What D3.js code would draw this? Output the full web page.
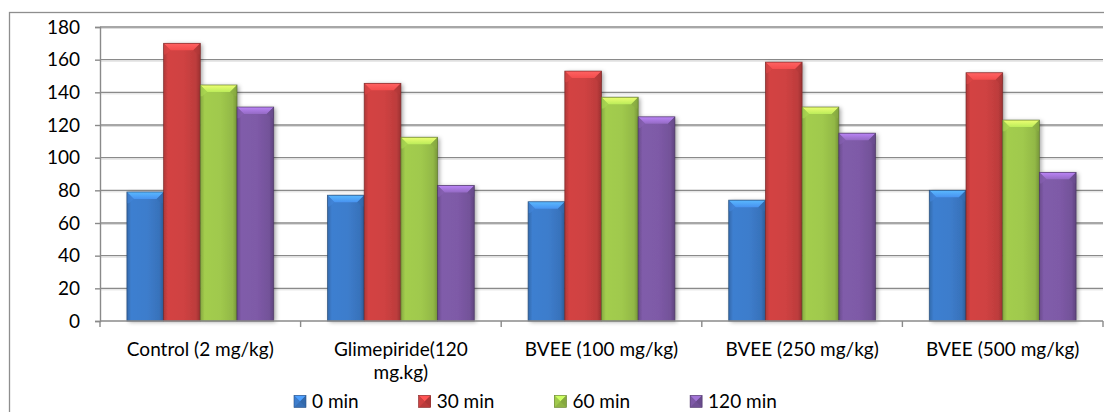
<!DOCTYPE html>
<html>
<head>
<meta charset="utf-8">
<script src="https://cdn.jsdelivr.net/npm/d3@7"></script>
<style>
html,body{margin:0;padding:0;background:#fff;}
svg{display:block;}
</style>
</head>
<body>
<svg id="chart" width="1104" height="412"></svg>
<script>
// ---- data ----
const categories = ["Control (2 mg/kg)", "Glimepiride(120 mg.kg)", "BVEE (100 mg/kg)", "BVEE (250 mg/kg)", "BVEE (500 mg/kg)"];
const seriesNames = ["0 min", "30 min", "60 min", "120 min"];
const min0   = [79, 77, 73, 74, 80];
const min30  = [170, 145.5, 153, 158.5, 152];
const min60  = [144.5, 112.5, 137, 131, 123];
const min120 = [131, 83, 125, 115, 91];
const yTicks = [0, 20, 40, 60, 80, 100, 120, 140, 160, 180];
const seriesColors = ["#3d7dcc", "#cf4242", "#a0c94d", "#7e5aa7"];

const seriesValues = [min0, min30, min60, min120];

const svg = d3.select("#chart");
const defs = svg.append("defs");

// shadow filter
const f = defs.append("filter").attr("id", "shadow").attr("x", "-20%").attr("y", "-20%").attr("width", "150%").attr("height", "150%");
f.append("feDropShadow").attr("dx", 2).attr("dy", 1).attr("stdDeviation", 2).attr("flood-color", "#000").attr("flood-opacity", 0.35);

// gradients per series
seriesColors.forEach((c, i) => {
  const base = d3.color(c);
  const g = defs.append("linearGradient").attr("id", "body" + i).attr("x1", 0).attr("x2", 1).attr("y1", 0).attr("y2", 0);
  g.append("stop").attr("offset", "0%").attr("stop-color", base.darker(0.5));
  g.append("stop").attr("offset", "12%").attr("stop-color", base.brighter(0.05));
  g.append("stop").attr("offset", "55%").attr("stop-color", base);
  g.append("stop").attr("offset", "88%").attr("stop-color", base.darker(0.25));
  g.append("stop").attr("offset", "100%").attr("stop-color", base.darker(0.8));
  const t = defs.append("linearGradient").attr("id", "top" + i).attr("x1", 0).attr("x2", 0).attr("y1", 0).attr("y2", 1);
  t.append("stop").attr("offset", "0%").attr("stop-color", base.brighter(1.1));
  t.append("stop").attr("offset", "100%").attr("stop-color", base.brighter(0.45));
});

const FONT = "Lato, 'Open Sans', sans-serif";

// fit font size so a category label width matches the reference
const probe = svg.append("text").attr("font-family", FONT).attr("font-size", 100).text("Control (2 mg/kg)");
const probeW = probe.node().getComputedTextLength();
probe.remove();
const fs = Math.min(19, 100 * 152 / probeW);

// outer border
svg.append("rect").attr("x", 9.5).attr("y", 12.5).attr("width", 1110).attr("height", 420)
  .attr("fill", "none").attr("stroke", "#8e8e8e").attr("stroke-width", 1.3);

const plotL = 100, plotR = 1103, plotT = 27, plotB = 321;
const y = d3.scaleLinear().domain([0, 180]).range([plotB, plotT]);
const x0 = d3.scaleBand().domain(categories).range([plotL, plotR]).padding(0);
const x1 = d3.scaleBand().domain(seriesNames).range([0, x0.bandwidth()]).paddingInner(0).paddingOuter(0.733);

// gridlines
svg.append("g").selectAll("line").data(yTicks.filter(v => v > 0)).join("line")
  .attr("x1", plotL).attr("x2", plotR)
  .attr("y1", d => y(d)).attr("y2", d => y(d))
  .attr("stroke", "#8a8a8a").attr("stroke-width", 1.4);
svg.append("g").selectAll("line").data(yTicks.filter(v => v > 0)).join("line")
  .attr("x1", plotL).attr("x2", plotR)
  .attr("y1", d => y(d) + 1.5).attr("y2", d => y(d) + 1.5)
  .attr("stroke", "#dcdcdc").attr("stroke-width", 1);

// y axis
const yAxis = svg.append("g").attr("transform", `translate(${plotL},0)`)
  .call(d3.axisLeft(y).tickValues(yTicks).tickSize(5).tickPadding(15));
yAxis.select(".domain").attr("stroke", "#8a8a8a").attr("stroke-width", 1.4);
yAxis.selectAll(".tick line").attr("stroke", "#8a8a8a").attr("stroke-width", 1.4);
yAxis.selectAll("text").attr("font-family", FONT).attr("font-size", fs).attr("fill", "#000");

// bars
const b = 7;
const groups = svg.append("g").selectAll("g").data(categories).join("g")
  .attr("transform", d => `translate(${x0(d)},0)`);
groups.each(function(cat, ci) {
  const g = d3.select(this);
  seriesNames.forEach((s, si) => {
    const v = seriesValues[si][ci];
    const x = x1(s), w = x1.bandwidth(), yt = y(v), h = y(0) - y(v);
    const base = d3.color(seriesColors[si]);
    const bar = g.append("g");
    bar.append("rect").attr("x", x).attr("y", yt).attr("width", w).attr("height", h)
      .attr("fill", `url(#body${si})`).attr("filter", "url(#shadow)");
    // top bevel
    bar.append("path")
      .attr("d", `M${x},${yt}L${x + w},${yt}L${x + w - b},${yt + b}L${x + b},${yt + b}Z`)
      .attr("fill", `url(#top${si})`);
    // left/right bevel edges near top
    bar.append("path")
      .attr("d", `M${x},${yt}L${x + b},${yt + b}L${x + b * 0.3},${yt + b * 1.6}L${x},${yt + b * 1.6}Z`)
      .attr("fill", base.brighter(0.2)).attr("opacity", 0.6);
    bar.append("path")
      .attr("d", `M${x + w},${yt}L${x + w - b},${yt + b}L${x + w - b * 0.3},${yt + b * 1.6}L${x + w},${yt + b * 1.6}Z`)
      .attr("fill", base.darker(0.4)).attr("opacity", 0.6);
    bar.append("rect").attr("x", x).attr("y", yt).attr("width", w).attr("height", h)
      .attr("fill", "none").attr("stroke", base.darker(1.6)).attr("stroke-width", 0.8).attr("stroke-opacity", 0.8);
  });
});

// x axis
svg.append("line").attr("x1", plotL).attr("x2", plotR).attr("y1", plotB).attr("y2", plotB)
  .attr("stroke", "#8a8a8a").attr("stroke-width", 1.4);
const bounds = categories.map(c => x0(c)).concat([x0(categories[categories.length - 1]) + x0.bandwidth()]);
svg.append("g").selectAll("line").data(bounds).join("line")
  .attr("x1", d => d).attr("x2", d => d).attr("y1", plotB).attr("y2", plotB + 6)
  .attr("stroke", "#8a8a8a").attr("stroke-width", 1.4);

// category labels with wrapping
const maxW = x0.bandwidth() - 14;
categories.forEach(c => {
  const t = svg.append("text").attr("font-family", FONT).attr("font-size", fs).attr("fill", "#000")
    .attr("text-anchor", "middle").attr("x", x0(c) + x0.bandwidth() / 2).attr("y", 356);
  const words = c.split(" ");
  let line = [];
  let ts = t.append("tspan").attr("x", x0(c) + x0.bandwidth() / 2).attr("dy", 0);
  words.forEach(wd => {
    line.push(wd);
    ts.text(line.join(" "));
    if (ts.node().getComputedTextLength() > maxW && line.length > 1) {
      line.pop();
      ts.text(line.join(" "));
      line = [wd];
      ts = t.append("tspan").attr("x", x0(c) + x0.bandwidth() / 2).attr("dy", 23).text(wd);
    }
  });
});

// legend
let lx = 294;
const ly = 401.5;
seriesNames.forEach((s, i) => {
  const base = d3.color(seriesColors[i]);
  const m = 12, mx = lx, my = ly - m / 2;
  const lg = svg.append("g");
  lg.append("rect").attr("x", mx).attr("y", my).attr("width", m).attr("height", m).attr("fill", base.darker(0.3));
  lg.append("path").attr("d", `M${mx},${my}L${mx + m},${my}L${mx + m / 2},${my + m / 2}Z`).attr("fill", base.brighter(0.7));
  lg.append("path").attr("d", `M${mx},${my}L${mx + m / 2},${my + m / 2}L${mx},${my + m}Z`).attr("fill", base);
  lg.append("path").attr("d", `M${mx + m},${my}L${mx + m / 2},${my + m / 2}L${mx + m},${my + m}Z`).attr("fill", base.darker(0.5));
  lg.append("rect").attr("x", mx).attr("y", my).attr("width", m).attr("height", m).attr("fill", "none")
    .attr("stroke", base.darker(1.2)).attr("stroke-width", 0.6);
  const t = lg.append("text").attr("font-family", FONT).attr("font-size", fs).attr("fill", "#000")
    .attr("x", lx + 18).attr("y", ly + fs * 0.35).text(s);
  lx += 18 + t.node().getComputedTextLength() + 60;
});
</script>
</body>
</html>
